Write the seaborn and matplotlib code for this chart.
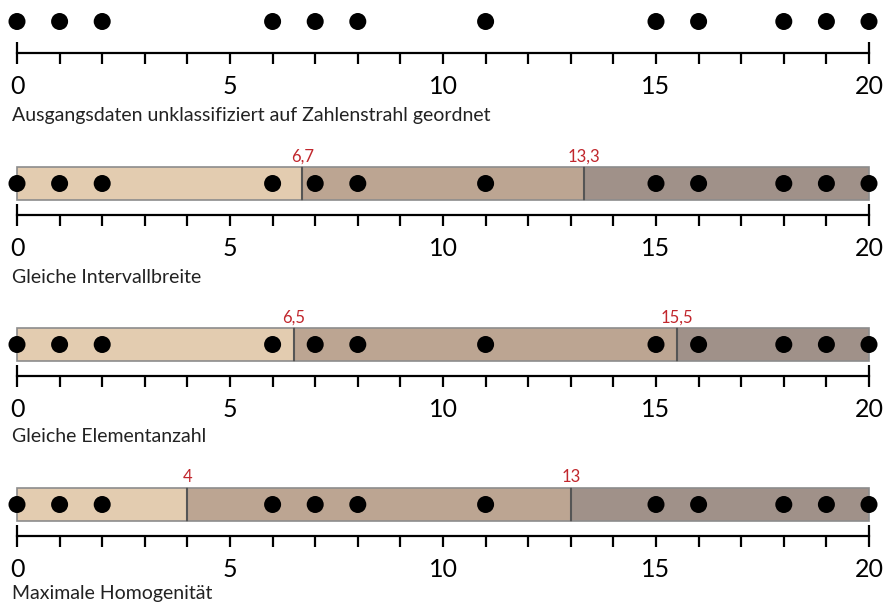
import matplotlib
matplotlib.use("Agg")
import matplotlib.pyplot as plt
import seaborn as sns
from matplotlib.ticker import FixedLocator, FuncFormatter

# data values on the number line
values = [0, 1, 2, 6, 7, 8, 11, 15, 16, 18, 19, 20]

captions = [
    "Ausgangsdaten unklassifiziert auf Zahlenstrahl geordnet",
    "Gleiche Intervallbreite",
    "Gleiche Elementanzahl",
    "Maximale Homogenität",
]

# class breaks per method (first panel has none)
equal_interval = [0, 6.7, 13.3, 20]
equal_count = [0, 6.5, 15.5, 20]
max_homogeneity = [0, 4, 13, 20]
break_sets = [None, equal_interval, equal_count, max_homogeneity]

equal_interval_labels = ["6,7", "13,3"]
equal_count_labels = ["6,5", "15,5"]
max_homogeneity_labels = ["4", "13"]
label_sets = [None, equal_interval_labels, equal_count_labels, max_homogeneity_labels]

class_colors = ["#e3ccb0", "#bca592", "#a09189"]

sns.set_theme(style="white")
plt.rcParams["font.family"] = ["Lato", "DejaVu Sans"]

W, H = 888, 605
fig = plt.figure(figsize=(W / 100, H / 100), dpi=100)
fig.patch.set_facecolor("white")

x0_px, px_per_unit = 17, 42.6
line_px = [53, 215, 376, 536]
caption_px = [121, 283, 442, 599]
panel_h = 60
dot_y = 31.5

for i in range(4):
    ax = fig.add_axes([0, 1 - line_px[i] / H, 1, panel_h / H])
    ax.patch.set_alpha(0)
    ax.set_xlim(-x0_px / px_per_unit, (W - x0_px) / px_per_unit)
    ax.set_ylim(0, panel_h)

    breaks = break_sets[i]
    if breaks is not None:
        lefts = breaks[:-1]
        widths = [b - a for a, b in zip(breaks[:-1], breaks[1:])]
        ax.barh(y=dot_y, width=widths, left=lefts, height=33,
                color=class_colors, edgecolor="#8c8c8c", linewidth=1.2, zorder=1)
        ax.vlines(breaks[1:-1], dot_y - 16.5, dot_y + 16.5, color="#555555",
                  linewidth=1.5, zorder=2)
        for b, lab in zip(breaks[1:-1], label_sets[i]):
            ax.text(b, dot_y + 19, lab, ha="center", va="bottom",
                    color="#c1272d", fontsize=12)

    sns.scatterplot(x=values, y=[dot_y] * len(values), ax=ax, s=150,
                    color="black", edgecolor="none", zorder=3,
                    clip_on=False, legend=False)

    for side in ["top", "left", "right"]:
        ax.spines[side].set_visible(False)
    ax.spines["bottom"].set_bounds(0, 20)
    ax.spines["bottom"].set_linewidth(1.6)
    ax.spines["bottom"].set_color("black")

    ax.set_yticks([])
    ax.xaxis.set_major_locator(FixedLocator([0, 20]))
    ax.xaxis.set_minor_locator(FixedLocator(list(range(1, 20))))
    ax.xaxis.set_major_formatter(FuncFormatter(lambda v, p: f"{v:.0f}"))
    ax.xaxis.set_minor_formatter(
        FuncFormatter(lambda v, p: f"{v:.0f}" if round(v) % 5 == 0 else ""))
    ax.tick_params(axis="x", which="both", bottom=True, width=1.6,
                   color="black", labelsize=18, labelcolor="black", pad=8)
    ax.tick_params(axis="x", which="major", direction="inout", length=16)
    ax.tick_params(axis="x", which="minor", direction="out", length=8)
    ax.set_xlabel("")
    ax.set_ylabel("")

    fig.text(12 / W, 1 - caption_px[i] / H, captions[i], ha="left",
             va="baseline", fontsize=14, color="#222222")

fig.savefig("out.png", dpi=100)
